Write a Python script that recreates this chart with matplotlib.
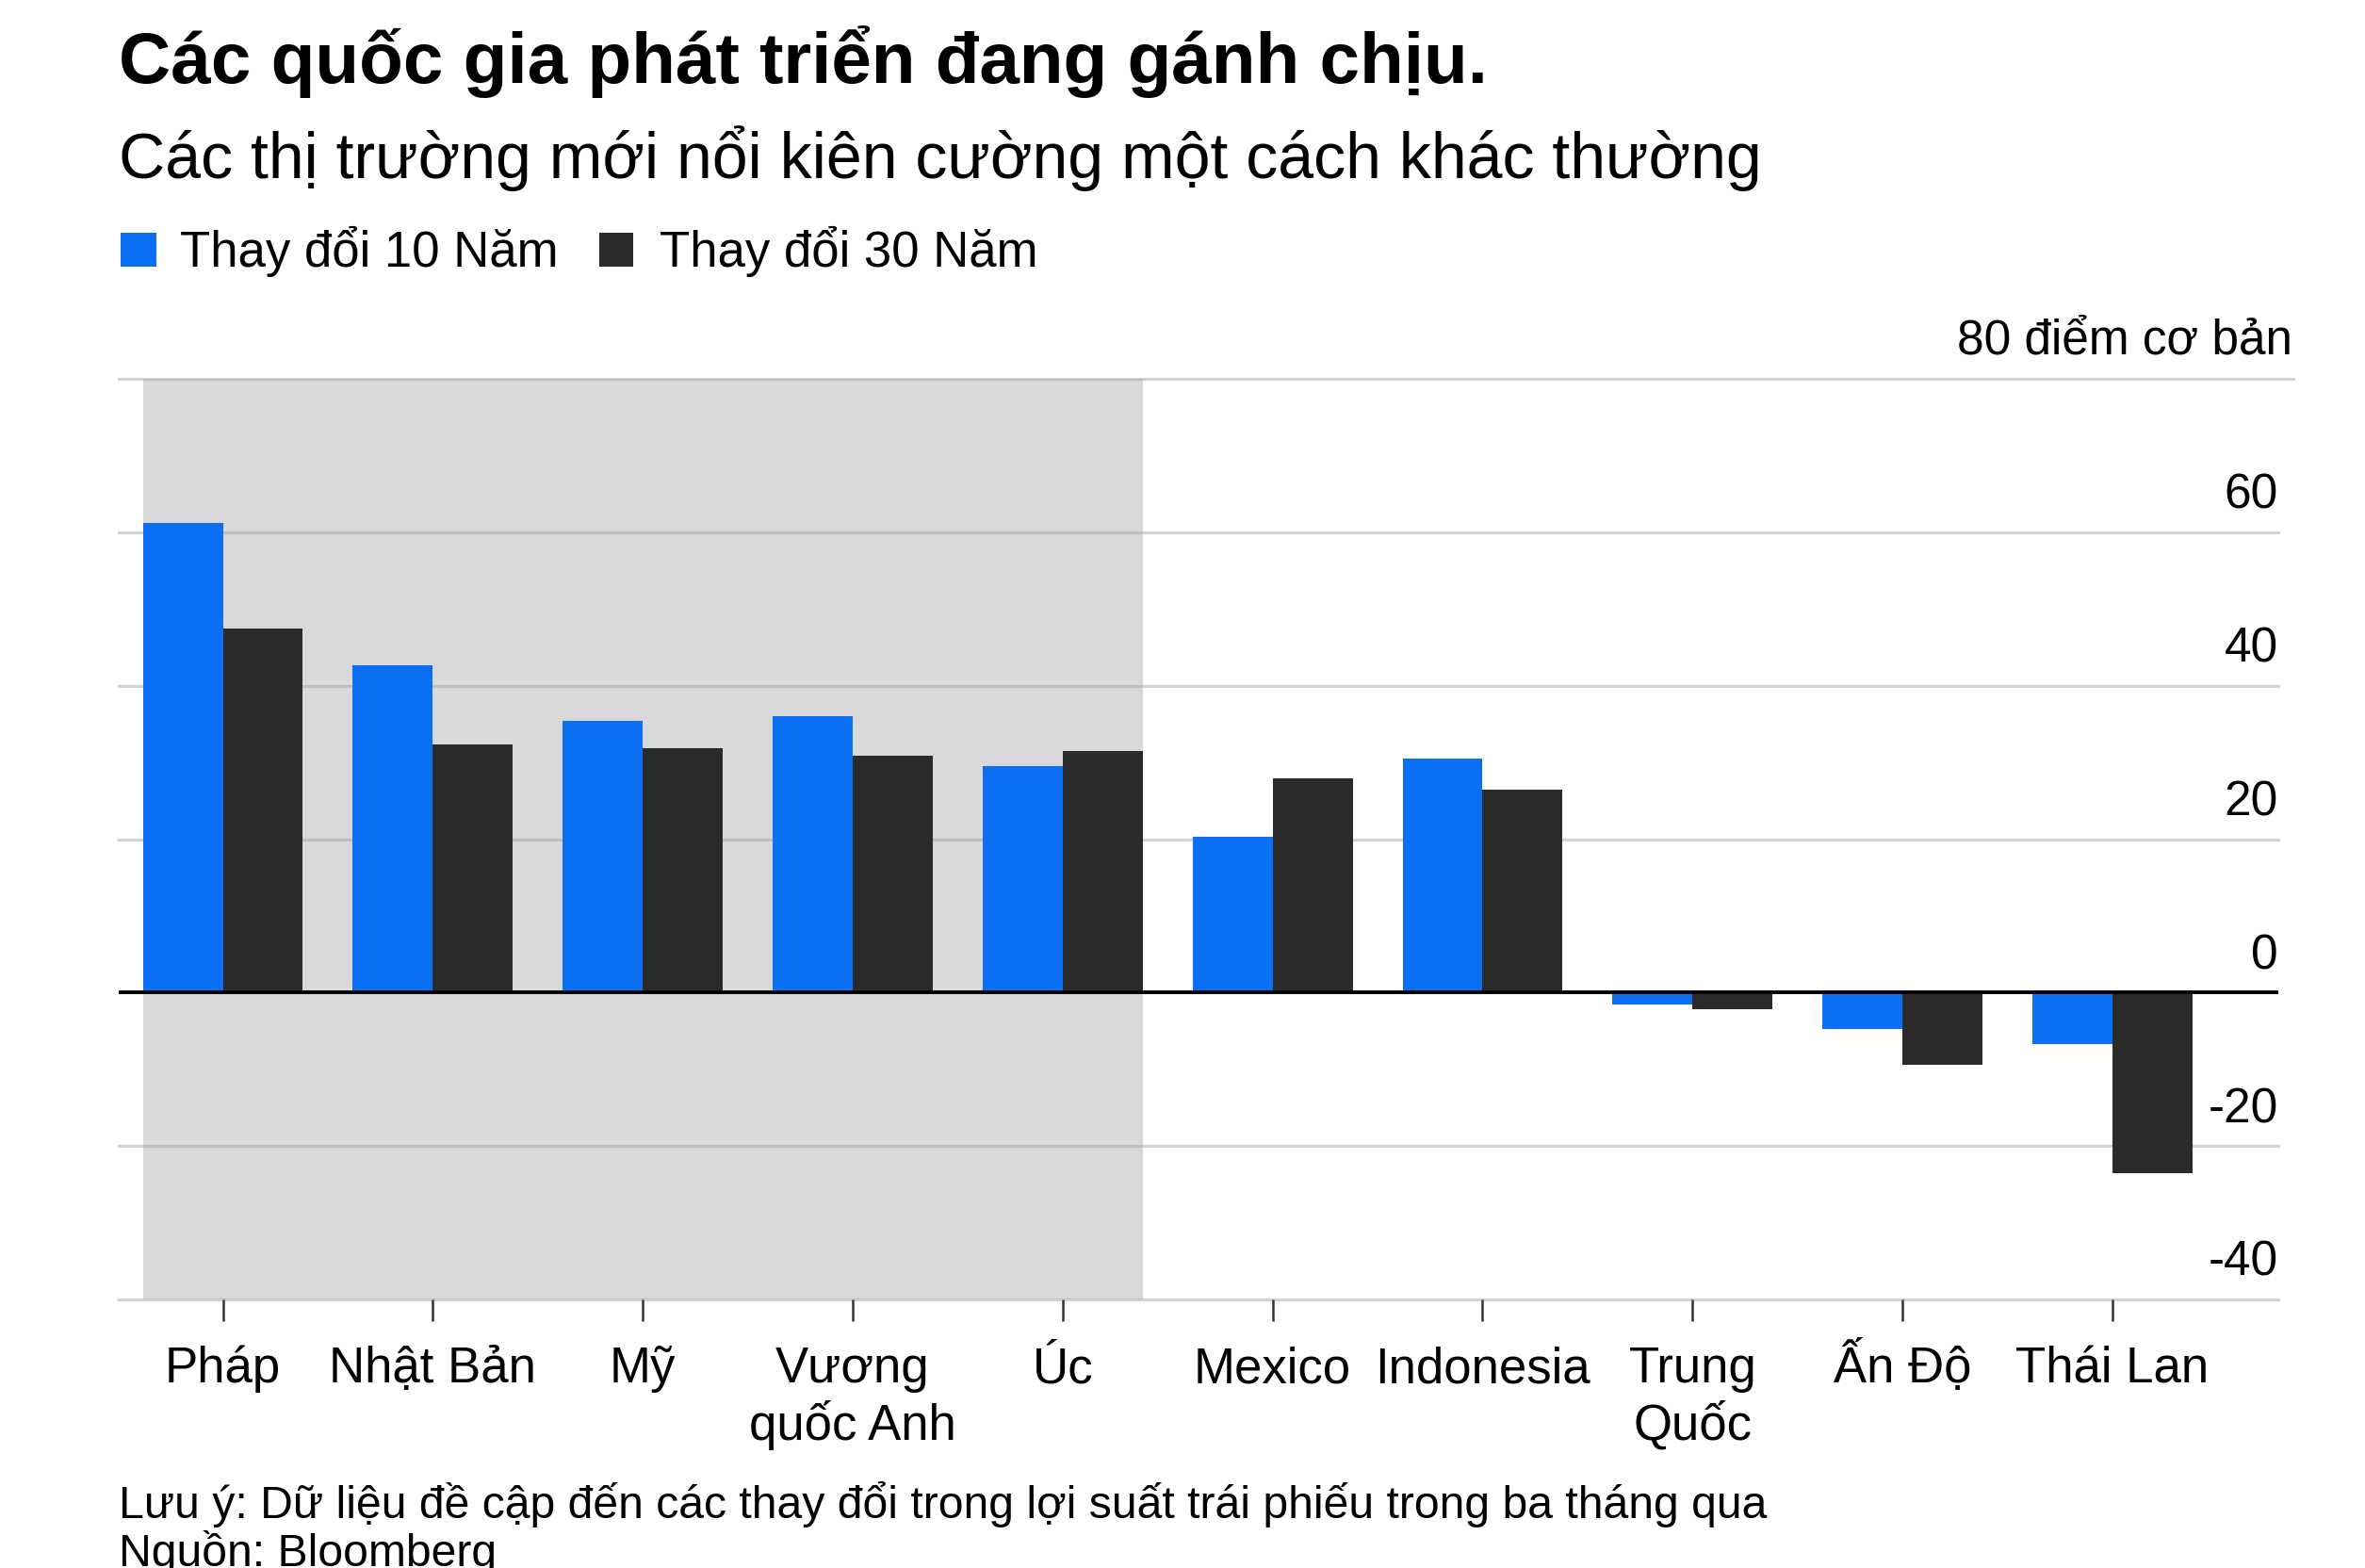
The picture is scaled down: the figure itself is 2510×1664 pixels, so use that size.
import matplotlib
matplotlib.use('Agg')
import matplotlib.pyplot as plt
from matplotlib.patches import Rectangle

# du lieu doc tu bieu do (diem co ban)
countries = ['Pháp', 'Nhật Bản', 'Mỹ', 'Vương\nquốc Anh', 'Úc', 'Mexico',
             'Indonesia', 'Trung\nQuốc', 'Ấn Độ', 'Thái Lan']
chg_10y = [61.2, 42.7, 35.4, 36.0, 29.5, 20.3, 30.5, -1.6, -4.7, -6.7]
chg_30y = [47.4, 32.4, 31.9, 30.9, 31.5, 27.9, 26.5, -2.2, -9.4, -23.6]
n_developed = 5
grid_levels = [80, 60, 40, 20, -20, -40]
ytick_vals = [60, 40, 20, 0, -20, -40]

BLUE = '#0b6ff4'
DARK = '#2a2a2a'

W, H = 2510, 1664


def fx(px):
    return px / W


def fy(py):
    return 1 - py / H


plt.rcParams['font.family'] = ['Liberation Sans', 'DejaVu Sans']

fig = plt.figure(figsize=(W / 100, H / 100), dpi=100)
ax = fig.add_axes([fx(126), fy(1379), fx(2418) - fx(126), fy(402) - fy(1379)])

x = list(range(len(countries)))
bw = 0.381
ax.bar([i - bw / 2 for i in x], chg_10y, width=bw, color=BLUE, zorder=2)
ax.bar([i + bw / 2 for i in x], chg_30y, width=bw, color=DARK, zorder=2)

# vung cac nuoc phat trien
ax.axvspan(-bw, n_developed - 1 + bw, color='#d9d8da', zorder=0, lw=0)

for g in grid_levels:
    xmax = 1.0069 if g == 80 else 1.0
    ax.axhline(g, xmax=xmax, color='#a8a8a8', alpha=0.5, lw=2.3, zorder=1, clip_on=False)
ax.axhline(0, color='black', lw=2.8, zorder=3)

ax.set_xlim(-0.496, 9.79)
ax.set_ylim(-40, 80)
for s in ax.spines.values():
    s.set_visible(False)
ax.set_yticks([])
ax.set_xticks(x)
ax.set_xticklabels([])
ax.tick_params(axis='x', length=16.5, width=1.8, color='#333333')

# nhan truc y (ben phai, phia tren duong luoi)
for v in ytick_vals:
    ax.annotate(str(v), xy=(1, v), xycoords=ax.get_yaxis_transform(),
                xytext=(0, 18), textcoords='offset points',
                ha='right', va='baseline', fontsize=37)
ax.annotate('80 điểm cơ bản', xy=(1.0065, 80), xycoords=ax.get_yaxis_transform(),
            xytext=(0, 19), textcoords='offset points',
            ha='right', va='baseline', fontsize=37)

# nhan truc x
for i, lab in enumerate(countries):
    for j, line in enumerate(lab.split('\n')):
        ax.annotate(line, xy=(i, 0), xycoords=ax.get_xaxis_transform(),
                    xytext=(0, -(88 + j * 61) * 0.72), textcoords='offset points',
                    ha='center', va='baseline', fontsize=38)

# tieu de
fig.text(fx(126), fy(88), 'Các quốc gia phát triển đang gánh chịu.',
         fontsize=55, fontweight='bold', va='baseline')
fig.text(fx(126), fy(189), 'Các thị trường mới nổi kiên cường một cách khác thường',
         fontsize=49, va='baseline')

# chu giai
fig.add_artist(Rectangle((fx(128), fy(283)), fx(38), 36 / H, transform=fig.transFigure,
                         color=BLUE, lw=0))
fig.text(fx(191), fy(283), 'Thay đổi 10 Năm', fontsize=38, va='baseline')
fig.add_artist(Rectangle((fx(636), fy(283)), fx(36), 36 / H, transform=fig.transFigure,
                         color=DARK, lw=0))
fig.text(fx(700), fy(283), 'Thay đổi 30 Năm', fontsize=38, va='baseline')

# ghi chu
fig.text(fx(126), fy(1611),
         'Lưu ý: Dữ liệu đề cập đến các thay đổi trong lợi suất trái phiếu trong ba tháng qua',
         fontsize=34.7, va='baseline')
fig.text(fx(126), fy(1662), 'Nguồn: Bloomberg', fontsize=34.7, va='baseline')

fig.savefig('out.png', dpi=100)
